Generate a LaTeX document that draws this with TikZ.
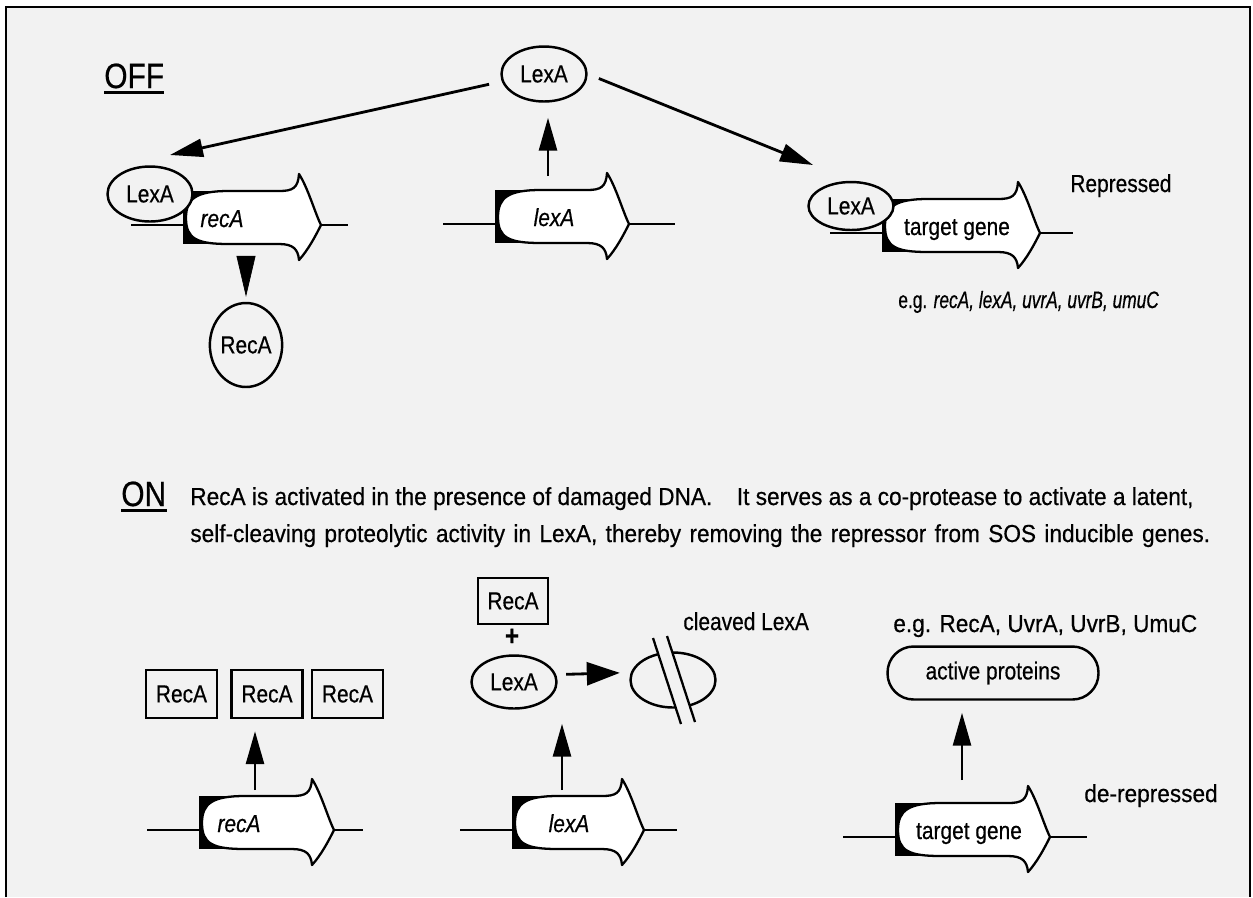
\documentclass[tikz,border=0pt]{standalone}
\usepackage{fontspec}
\setmainfont{Liberation Sans}[FakeStretch=0.85,FakeBold=0.5]
\newfontfamily\widefont{Liberation Sans}[FakeStretch=0.92,FakeBold=0.5]
\newfontfamily\slimfont{Liberation Sans}[FakeStretch=0.73,FakeBold=0.5]
\usetikzlibrary{shapes.geometric,arrows.meta,calc}

\definecolor{paper}{HTML}{F2F2F2}

\tikzset{
  dna/.style={line width=1.2pt},
  genebody/.style={fill=white,draw=black,line width=1.3pt,line join=round},
  lbl/.style={font=\fontsize{14}{16}\selectfont,inner sep=0pt},
  wide/.style={font=\widefont\fontsize{14}{16}\selectfont,inner sep=0pt},
  prot/.style={ellipse,draw,line width=1.4pt,fill=paper,minimum width=1.7cm,
    minimum height=1.1cm,inner sep=0pt,font=\fontsize{14}{16}\selectfont},
  protbox/.style={rectangle,draw,line width=1.4pt,fill=paper,minimum width=1.42cm,
    minimum height=0.96cm,inner sep=0pt,font=\fontsize{14}{16}\selectfont},
  arr/.style={line width=1.6pt,-{Triangle[length=0.66cm,width=0.36cm]}},
  tri/.style={-{Triangle[length=0.82cm,width=0.38cm]}},
  heading/.style={font=\fontsize{20}{24}\selectfont,inner sep=0pt,anchor=base west},
  % gene: #1 length to barb, #2 label x, #3 label, #4 tail
  pics/gene/.style n args={4}{code={
    \draw[dna] (-52,0) -- (0,0);
    \draw[dna] (#1+22,0) -- (#1+22+#4,0);
    \fill[black] (0,-34) rectangle (46,19);
    \filldraw[genebody] (46,-34) -- (#1-20,-34)
      .. controls (#1-6,-34) and (#1-1,-37) .. (#1,-51)
      .. controls (#1+9,-37) and (#1+16,-12) .. (#1+22,0)
      .. controls (#1+16,12) and (#1+9,25) .. (#1,35)
      .. controls (#1-1,24) and (#1-6,19) .. (#1-20,19)
      -- (46,19) .. controls (14,19) and (3,14) .. (3,-7)
      .. controls (3,-27) and (14,-34) .. (46,-34) -- cycle;
    \node[lbl,anchor=base] (-lbl) at (#2,2) {#3};
  }}
}

\begin{document}
\begin{tikzpicture}[x=0.02cm,y=-0.02cm]
\useasboundingbox (0,0) rectangle (1253,897);
\fill[white] (0,0) rectangle (1253,897);
\fill[paper] (6,7) rectangle (1250,897);
\draw[line width=1.3pt] (6,897) -- (6,7) -- (1250,7) -- (1250,897);

% OFF state
\node[heading] (off) at (104,88) {OFF};
\draw[line width=1.4pt] ([yshift=-0.09cm]off.base west) -- ([yshift=-0.09cm]off.base east);

\pic (gRecOff) at (183,225) {gene={116}{39}{\itshape recA}{27}};
\pic (gLexOff) at (495,224) {gene={112}{59}{\itshape lexA}{46}};
\pic (gTgtOff) at (882,233) {gene={136}{75}{target gene}{33}};

\node[prot] (lexTop) at (544,74) {LexA};
\node[prot] (lexRec) at (150,194) {LexA};
\node[prot,minimum height=0.96cm] (lexTgt) at (851,206) {LexA};
\node[prot,minimum width=1.24cm,minimum height=1.68cm] (recOff) at (246,345) {RecA};

\coordinate (offL) at (170,155);
\coordinate (offR) at (813,165);
\coordinate (lexUp) at (548,176);
\coordinate (recDown) at (246,257);

\draw[arr,shorten <=0.26cm] (lexTop.190) -- (offL);
\draw[arr,shorten <=0.24cm] (lexTop.east) -- (offR);
\draw[arr,shorten >=0.3cm] (lexUp) -- (lexUp |- lexTop.south);
\draw[tri,shorten >=0.1cm] (recDown) -- (recOff);

\node[lbl,anchor=base west] (rep) at (1070,192) {Repressed};
\node[font=\slimfont\fontsize{13.5}{15}\selectfont,inner sep=0pt,anchor=base west] (eg1) at (898,308)
  {e.g. \textit{recA, lexA, uvrA, uvrB, umuC}};

% ON state
\node[heading] (on) at (121,506) {ON};
\draw[line width=1.4pt] ([yshift=-0.09cm]on.base west) -- ([yshift=-0.09cm]on.base east);
\node[wide,anchor=base west] (on1) at (190,505)
  {RecA is activated in the presence of damaged DNA.\quad It serves as a co-protease to activate a latent,};
\node[wide,anchor=base west] (on2) at (190,542)
  {\makebox[20.4cm][s]{self-cleaving proteolytic activity in LexA, thereby removing the repressor from SOS inducible genes.}};

\pic (gRecOn) at (199,830) {gene={113}{40}{\itshape recA}{29}};
\pic (gLexOn) at (512,830) {gene={110}{57}{\itshape lexA}{33}};
\pic (gTgtOn) at (895,837) {gene={133}{74}{target gene}{37}};

\node[protbox] (recB1) at (181.5,694) {RecA};
\node[protbox] (recB2) at (267,694) {RecA};
\node[protbox] (recB3) at (347.5,694) {RecA};

\node[protbox,minimum width=1.4cm,minimum height=0.92cm] (recTop) at (513,601) {RecA};
\node[font=\fontsize{16}{16}\selectfont\bfseries,inner sep=0pt] (plus) at (512,637) {+};
\node[prot,minimum height=1.06cm] (lexOn) at (514,682) {LexA};

\node[prot] (cleaved) at (673,680) {};
\fill[paper] (653,638) -- (667,636) -- (695,722) -- (681,724) -- cycle;
\draw[line width=1.3pt] (653,638) -- (681,724) (667,636) -- (695,722);
\node[lbl,anchor=base west] (clv) at (683,630) {cleaved LexA};

\node[protbox,rounded corners=0.52cm,minimum width=4.22cm,minimum height=1.06cm] (act) at (993,673) {active proteins};
\node[wide,anchor=base west] (eg2) at (893,632) {e.g. RecA, UvrA, UvrB, UmuC};
\node[wide,anchor=base west] (derep) at (1084,802) {de-repressed};

\coordinate (recUp) at (255,790);
\coordinate (lexUpOn) at (562,790);
\coordinate (tgtUp) at (962,780);

\draw[arr,shorten >=0.24cm] (recUp) -- (recUp |- recB2.south);
\draw[arr,shorten >=0.28cm] (lexUpOn) -- (lexUpOn |- lexOn.south);
\draw[arr,-{Triangle[length=0.66cm,width=0.46cm]},shorten <=0.2cm,shorten >=0.22cm] (lexOn.10) -- (cleaved.170);
\draw[arr,shorten >=0.24cm] (tgtUp) -- (tgtUp |- act.south);

\end{tikzpicture}
\end{document}
